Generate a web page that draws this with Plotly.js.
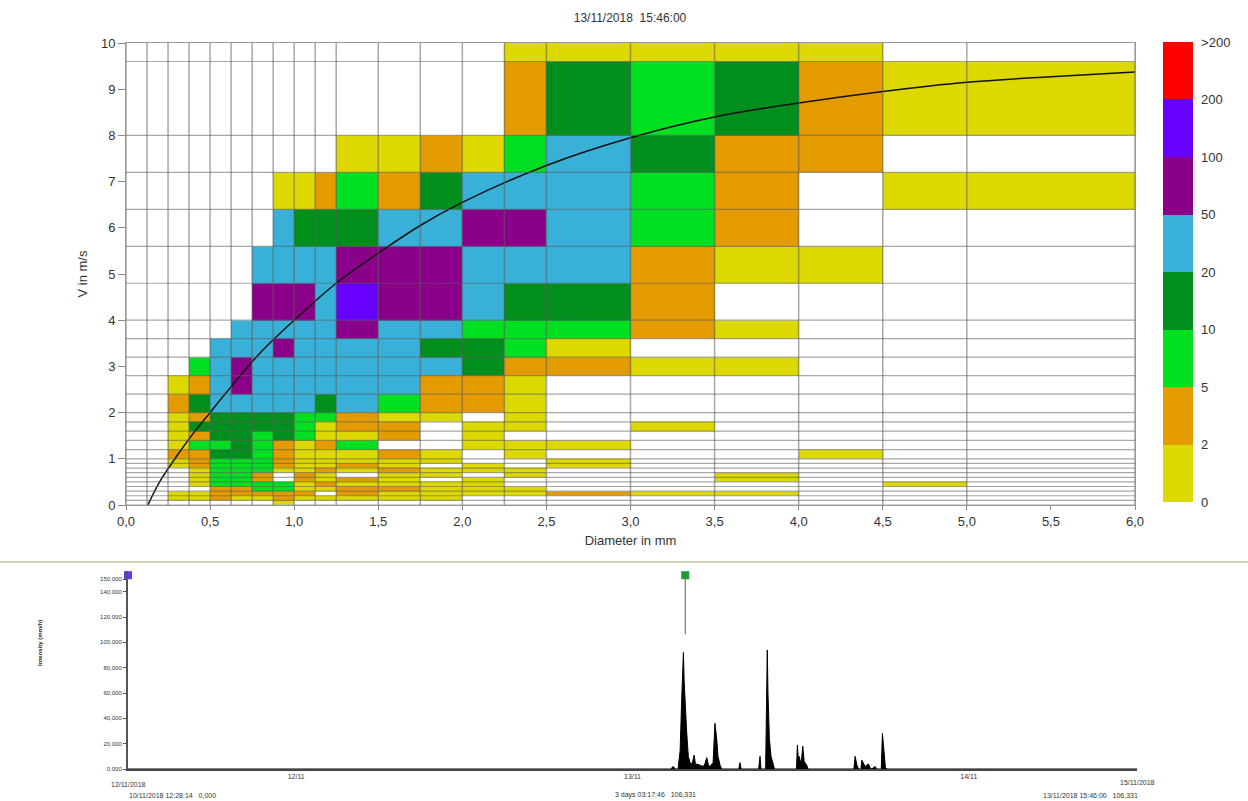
<!DOCTYPE html>
<html>
<head>
<meta charset="utf-8">
<script src="https://cdn.plot.ly/plotly-3.0.1.min.js"></script>
<style>
  html, body { margin: 0; padding: 0; background: #ffffff; }
  #chart { width: 1248px; height: 801px; }
</style>
</head>
<body>
<div id="chart"></div>
<script>
// ---------- DATA ----------
const chartTitle = '13/11/2018\u00a0\u00a015:46:00';

// Diameter class edges (mm) and velocity class edges (m/s)
const dEdges = [0, 0.125, 0.25, 0.375, 0.5, 0.625, 0.75, 0.875, 1.0, 1.125, 1.25,
                1.5, 1.75, 2.0, 2.25, 2.5, 3.0, 3.5, 4.0, 4.5, 5.0, 6.0];
const vEdges = [0, 0.1, 0.2, 0.3, 0.4, 0.5, 0.6, 0.7, 0.8, 0.9, 1.0,
                1.2, 1.4, 1.6, 1.8, 2.0, 2.4, 2.8, 3.2, 3.6, 4.0,
                4.8, 5.6, 6.4, 7.2, 8.0, 9.6, 11.2];

// Estimated drop counts per (velocity row, diameter column); row 0 = lowest velocity class
const dropCounts = [
  [0,0,0,0,0,0,0,1,0,0,0,0,0,0,0,0,0,0,0,0,0],
  [0,0,1,1,3,1,1,3,1,1,1,1,1,0,0,0,0,0,0,0,0],
  [0,0,1,1,3,3,3,3,3,0,3,1,1,1,1,3,1,1,0,0,0],
  [0,0,0,0,3,3,7,7,1,1,3,3,1,1,1,0,0,0,0,0,0],
  [0,0,0,1,7,7,7,7,1,3,1,1,1,1,0,0,0,0,0,1,0],
  [0,0,0,1,7,7,3,0,3,1,3,1,0,1,0,0,0,1,0,0,0],
  [0,0,0,1,7,7,3,0,3,1,0,1,1,0,1,0,0,1,0,0,0],
  [0,0,0,1,7,7,7,1,1,3,1,3,1,1,1,0,0,0,0,0,0],
  [0,0,1,3,7,7,7,3,1,1,3,1,0,1,0,1,0,0,0,0,0],
  [0,0,1,3,7,7,7,3,1,1,1,1,1,0,0,1,0,0,0,0,0],
  [0,0,3,3,15,15,7,3,1,1,1,3,1,0,1,0,0,0,1,0,0],
  [0,0,1,7,7,15,7,3,1,3,7,0,0,1,1,1,0,0,0,0,0],
  [0,0,1,3,15,15,7,15,7,1,1,3,0,1,0,0,0,0,0,0,0],
  [0,0,1,15,15,15,15,15,7,1,3,3,0,1,1,0,1,0,0,0,0],
  [0,0,1,3,15,15,15,15,7,7,3,1,1,0,1,0,0,0,0,0,0],
  [0,0,3,15,35,35,35,35,35,15,35,7,3,3,1,0,0,0,0,0,0],
  [0,0,1,3,35,75,35,35,35,35,35,35,3,3,1,0,0,0,0,0,0],
  [0,0,0,7,35,75,35,35,35,35,35,35,35,15,3,3,1,1,0,0,0],
  [0,0,0,0,35,35,35,75,35,35,35,35,15,15,7,1,0,0,0,0,0],
  [0,0,0,0,0,35,35,35,35,35,75,35,35,7,7,7,3,1,0,0,0],
  [0,0,0,0,0,0,75,75,75,35,150,75,75,35,15,15,3,0,0,0,0],
  [0,0,0,0,0,0,35,35,35,35,75,75,75,35,35,35,3,1,1,0,0],
  [0,0,0,0,0,0,0,35,15,15,15,35,35,75,75,35,7,3,0,0,0],
  [0,0,0,0,0,0,0,1,1,3,7,3,15,35,35,35,7,3,0,1,1],
  [0,0,0,0,0,0,0,0,0,0,1,1,3,1,7,35,15,3,3,0,0],
  [0,0,0,0,0,0,0,0,0,0,0,0,0,0,3,15,7,15,3,1,1],
  [0,0,0,0,0,0,0,0,0,0,0,0,0,0,1,1,1,1,1,0,0]
];

// Colour classes (lower bounds) and legend
const classLevels = [0, 2, 5, 10, 20, 50, 100, 200];
const classLabels = ['0', '2', '5', '10', '20', '50', '100', '200', '>200'];
const classColors = ['#dcd800', '#e39b00', '#00e020', '#008f1c', '#38b0d8', '#8b0088', '#6600ff', '#ff0000'];

// Reference fall-velocity curve
const curveD = [0.13, 0.2, 0.3, 0.4, 0.5, 0.6, 0.8, 1.0, 1.25, 1.5, 1.75, 2.0, 2.5, 3.0, 3.5, 4.0, 4.5, 5.0, 5.5, 6.0];
const curveV = [0.0, 0.5, 1.05, 1.55, 2.0, 2.45, 3.3, 4.0, 4.8, 5.45, 6.05, 6.55, 7.35, 7.95, 8.4, 8.7, 8.95, 9.15, 9.27, 9.37];

// Axis ticks (main chart)
const xTicks = [0, 0.5, 1.0, 1.5, 2.0, 2.5, 3.0, 3.5, 4.0, 4.5, 5.0, 5.5, 6.0];
const yTicks = [0, 1, 2, 3, 4, 5, 6, 7, 8, 9, 10];

// Bottom chart: rain intensity time series
const rainTime = [
  '2018-11-12 00:00', '2018-11-13 14:45', '2018-11-13 14:53', '2018-11-13 15:05', '2018-11-13 15:15',
  '2018-11-13 15:19', '2018-11-13 15:24', '2018-11-13 15:31', '2018-11-13 15:36', '2018-11-13 15:38',
  '2018-11-13 15:41', '2018-11-13 15:45', '2018-11-13 15:52', '2018-11-13 15:59', '2018-11-13 16:06',
  '2018-11-13 16:15', '2018-11-13 16:24', '2018-11-13 16:30', '2018-11-13 16:35', '2018-11-13 16:49',
  '2018-11-13 17:02', '2018-11-13 17:10', '2018-11-13 17:18', '2018-11-13 17:25', '2018-11-13 17:32',
  '2018-11-13 17:45', '2018-11-13 17:53', '2018-11-13 18:01', '2018-11-13 18:06', '2018-11-13 18:15',
  '2018-11-13 18:22', '2018-11-13 19:35', '2018-11-13 19:40', '2018-11-13 19:45', '2018-11-13 21:00',
  '2018-11-13 21:06', '2018-11-13 21:10', '2018-11-13 21:30', '2018-11-13 21:34', '2018-11-13 21:37',
  '2018-11-13 21:40', '2018-11-13 21:46', '2018-11-13 21:53', '2018-11-13 22:02', '2018-11-13 22:08',
  '2018-11-13 23:42', '2018-11-13 23:46', '2018-11-13 23:50', '2018-11-13 23:53', '2018-11-14 00:02',
  '2018-11-14 00:09', '2018-11-14 00:15', '2018-11-14 00:26', '2018-11-14 00:32', '2018-11-14 03:48',
  '2018-11-14 03:53', '2018-11-14 04:01', '2018-11-14 04:08', '2018-11-14 04:18', '2018-11-14 04:22',
  '2018-11-14 04:29', '2018-11-14 04:36', '2018-11-14 04:50', '2018-11-14 04:57', '2018-11-14 05:05',
  '2018-11-14 05:19', '2018-11-14 05:25', '2018-11-14 05:45', '2018-11-14 05:50', '2018-11-14 05:54',
  '2018-11-14 05:58', '2018-11-14 06:03', '2018-11-14 06:10', '2018-11-15 00:00'
];
const rainIntensity = [
  0, 0, 2, 0, 0,
  6, 15, 57, 75, 92,
  70, 52, 29, 10, 5,
  4, 11, 3, 4, 3,
  2, 4, 9, 3, 2,
  5, 36, 23, 10, 3,
  0, 0, 5, 0, 0,
  10, 0, 0, 70, 94,
  60, 24, 10, 3, 0,
  0, 19, 8, 10, 4,
  18, 6, 3, 0, 0,
  10, 3, 0, 0, 7,
  5, 2, 4, 1, 0,
  2, 0, 0, 28, 18,
  6, 1, 0, 0
];

const timeStart = '2018-11-12 00:00';
const timeEnd = '2018-11-15 00:00';
const dayTickTimes = ['2018-11-12 12:00', '2018-11-13 12:00', '2018-11-14 12:00'];
const dayTickLabels = ['12/11', '13/11', '14/11'];
const intensityTicks = [0, 20, 40, 60, 80, 100, 120, 140, 150];
const intensityMax = 156;

const startMarkerTime = '2018-11-12 00:00';
const cursorTime = '2018-11-13 15:46';
const markerLevel = 153;
const cursorValue = 106.331;

const startLabel = '12/11/2018';
const endLabel = '15/11/2018';
const infoLeft = '10/11/2018 12:28:14\u00a0\u00a0\u00a00,000';
const infoMid = '3 days 03:17:46\u00a0\u00a0\u00a0106,331';
const infoRight = '13/11/2018 15:46:00\u00a0\u00a0\u00a0106,331';

// ---------- BUILD ----------
const W = 1248, H = 801;
const px = v => v / W;
const py = v => 1 - v / H;

function classOf(c) {
  if (!c) return null;
  let k = 0;
  for (let i = 0; i < classLevels.length; i++) if (c > classLevels[i]) k = i;
  return k + 0.5;
}
const zClass = dropCounts.map(row => row.map(classOf));

const nC = classColors.length;
const colorscale = [];
classColors.forEach((c, k) => { colorscale.push([k / nC, c]); colorscale.push([(k + 1) / nC, c]); });

const FONT = 'Liberation Sans, Arial, sans-serif';

const heat = {
  type: 'heatmap',
  x: dEdges, y: vEdges, z: zClass,
  zmin: 0, zmax: nC,
  colorscale: colorscale,
  hoverinfo: 'skip',
  xaxis: 'x', yaxis: 'y',
  colorbar: {
    x: px(1163), xanchor: 'left', xpad: 0,
    y: py(42), yanchor: 'top', ypad: 0,
    len: 460, lenmode: 'pixels',
    thickness: 30, thicknessmode: 'pixels',
    outlinewidth: 0,
    tickmode: 'array',
    tickvals: classLabels.map((_, i) => i),
    ticktext: classLabels,
    ticks: 'outside', ticklen: 6, tickcolor: 'rgba(0,0,0,0)',
    tickfont: { family: FONT, size: 13, color: '#333' }
  }
};

const curve = {
  type: 'scatter', mode: 'lines',
  x: curveD, y: curveV,
  line: { color: '#111', width: 1.5, shape: 'spline' },
  hoverinfo: 'skip', xaxis: 'x', yaxis: 'y', showlegend: false
};

const rain = {
  type: 'scatter', mode: 'lines',
  x: rainTime, y: rainIntensity,
  fill: 'tozeroy', fillcolor: '#000',
  line: { color: '#000', width: 1 },
  hoverinfo: 'skip', xaxis: 'x2', yaxis: 'y2', showlegend: false
};

const cursorLine = {
  type: 'scatter', mode: 'lines',
  x: [cursorTime, cursorTime], y: [cursorValue, markerLevel],
  line: { color: '#777', width: 1.2 },
  hoverinfo: 'skip', xaxis: 'x2', yaxis: 'y2', showlegend: false
};

const markers = {
  type: 'scatter', mode: 'markers',
  x: [startMarkerTime, cursorTime], y: [markerLevel, markerLevel],
  marker: { symbol: 'square', size: 8, color: ['#6633ff', '#1f9a35'], line: { width: 0 } },
  hoverinfo: 'skip', xaxis: 'x2', yaxis: 'y2', showlegend: false, cliponaxis: false
};

// Class-boundary grid lines
const gridColor = 'rgba(95,95,95,0.55)';
const shapes = [];
dEdges.filter(d => d <= 6).forEach(d => shapes.push({
  type: 'line', xref: 'x', yref: 'y', x0: d, x1: d, y0: 0, y1: 10,
  line: { color: gridColor, width: 1.5 }, layer: 'above'
}));
vEdges.filter(v => v <= 10).forEach(v => shapes.push({
  type: 'line', xref: 'x', yref: 'y', x0: 0, x1: 6, y0: v, y1: v,
  line: { color: gridColor, width: 1.2 }, layer: 'above'
}));
// panel separator
shapes.push({
  type: 'line', xref: 'paper', yref: 'paper', x0: 0, x1: 1, y0: py(562), y1: py(562),
  line: { color: '#d6d3b8', width: 2 }, layer: 'above'
});

const smallFont = { family: FONT, size: 7, color: '#333' };

// y2 domain: 0 at 769 px, 150 at 579 px
const y2PxPerUnit = (769 - 579) / 150;

const layout = {
  width: W, height: H,
  margin: { l: 0, r: 0, t: 0, b: 0, pad: 0 },
  paper_bgcolor: '#fff', plot_bgcolor: '#fff',
  separators: ',.',
  font: { family: FONT, color: '#333' },
  showlegend: false,
  title: {
    text: chartTitle, x: px(630), xanchor: 'center', y: py(18), yanchor: 'middle',
    font: { family: FONT, size: 12, color: '#333' }
  },
  xaxis: {
    domain: [px(126), px(1135)], range: [0, 6], anchor: 'y',
    tickmode: 'array', tickvals: xTicks, tickformat: '.1f',
    ticks: 'outside', ticklen: 4, tickcolor: '#888',
    tickfont: { family: FONT, size: 13, color: '#333' },
    showgrid: false, zeroline: false,
    showline: true, mirror: true, linecolor: '#999', linewidth: 1,
    automargin: false,
    title: { text: 'Diameter in mm', font: { family: FONT, size: 13, color: '#333' }, standoff: 8 }
  },
  yaxis: {
    domain: [py(505), py(43)], range: [0, 10], anchor: 'x',
    tickmode: 'array', tickvals: yTicks,
    ticks: 'outside', ticklen: 7, tickcolor: '#888',
    tickfont: { family: FONT, size: 13, color: '#333' },
    showgrid: false, zeroline: false,
    showline: true, mirror: true, linecolor: '#999', linewidth: 1,
    automargin: false,
    title: { text: 'V in m/s', font: { family: FONT, size: 13, color: '#333' }, standoff: 10 }
  },
  xaxis2: {
    domain: [px(128), px(1137)], type: 'date', range: [timeStart, timeEnd], anchor: 'y2',
    tickmode: 'array', tickvals: dayTickTimes, ticktext: dayTickLabels,
    ticks: '', tickfont: smallFont,
    showgrid: false, zeroline: false,
    showline: true, linecolor: '#444', linewidth: 2,
    automargin: false
  },
  yaxis2: {
    domain: [py(769), py(769 - intensityMax * y2PxPerUnit)], range: [0, intensityMax], anchor: 'x2',
    tickmode: 'array', tickvals: intensityTicks, tickformat: '.3f',
    ticks: 'outside', ticklen: 3, tickcolor: '#555',
    tickfont: { family: FONT, size: 6, color: '#333' },
    showgrid: false, zeroline: false,
    showline: true, linecolor: '#555', linewidth: 2,
    automargin: false
  },
  shapes: shapes,
  annotations: [
    { text: 'Intensity (mm/h)', textangle: -90, xref: 'paper', yref: 'paper',
      x: px(35), y: py(668), showarrow: false, font: { family: FONT, size: 6, color: '#222', weight: 'bold' } },
    { text: startLabel, xref: 'x2', yref: 'paper', x: timeStart, y: py(784), showarrow: false,
      xanchor: 'center', yanchor: 'middle', font: smallFont },
    { text: endLabel, xref: 'x2', yref: 'paper', x: timeEnd, y: py(782), showarrow: false,
      xanchor: 'center', yanchor: 'middle', font: smallFont },
    { text: infoLeft, xref: 'paper', yref: 'paper', x: px(127), y: py(795), showarrow: false,
      xanchor: 'left', yanchor: 'middle', font: smallFont },
    { text: infoMid, xref: 'paper', yref: 'paper', x: px(655), y: py(795), showarrow: false,
      xanchor: 'center', yanchor: 'middle', font: smallFont },
    { text: infoRight, xref: 'paper', yref: 'paper', x: px(1140), y: py(795), showarrow: false,
      xanchor: 'right', yanchor: 'middle', font: smallFont }
  ]
};

Plotly.newPlot('chart', [heat, curve, rain, cursorLine, markers], layout, { staticPlot: true, displayModeBar: false });
</script>
</body>
</html>
